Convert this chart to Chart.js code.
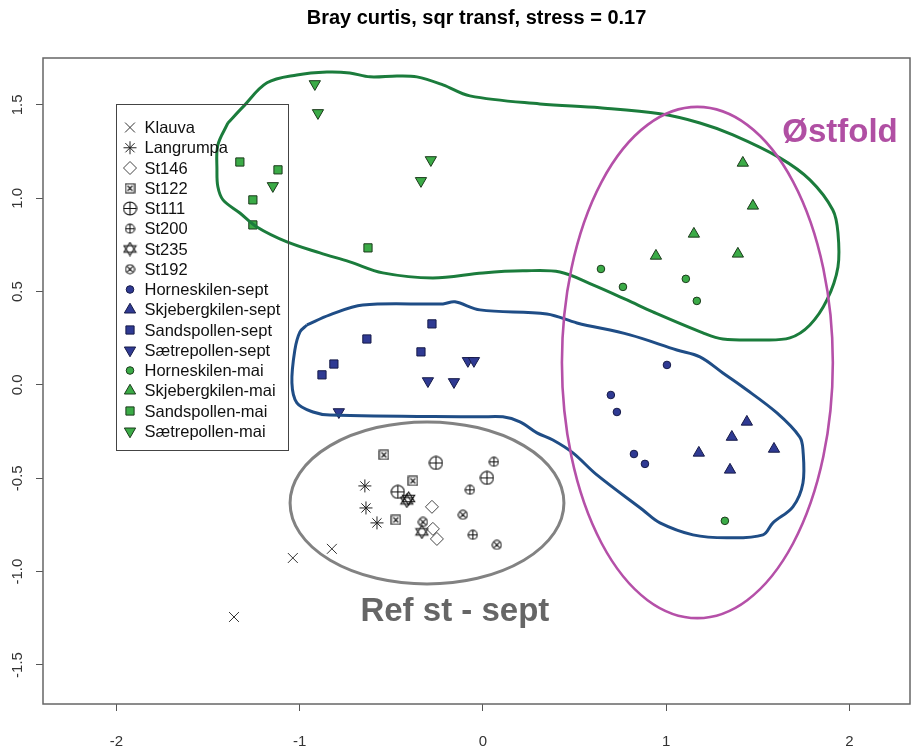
<!DOCTYPE html>
<html>
<head>
<meta charset="utf-8">
<script src="https://cdn.jsdelivr.net/npm/chart.js@4/dist/chart.umd.min.js"></script>
<style>
  html, body { margin: 0; padding: 0; background: #fff; }
  canvas { display: block; }
</style>
</head>
<body>
<canvas id="nmds" width="913" height="747"></canvas>
<script>
// NMDS scores, [x, y] per sample
const klauva = [[-1.037, -0.927], [-0.824, -0.878], [-1.358, -1.243]];
const langrumpa = [[-0.644, -0.541], [-0.638, -0.659], [-0.578, -0.739]];
const st146 = [[-0.278, -0.653], [-0.273, -0.771], [-0.251, -0.825]];
const st122 = [[-0.540, -0.375], [-0.382, -0.514], [-0.475, -0.723]];
const st111 = [[-0.256, -0.418], [0.022, -0.498], [-0.464, -0.573]];
const st200 = [[0.060, -0.412], [-0.071, -0.562], [-0.055, -0.803]];
const st235 = [[-0.415, -0.621], [-0.405, -0.608], [-0.333, -0.787]];
const st192 = [[-0.327, -0.734], [-0.109, -0.696], [0.076, -0.857]];
const horneSept = [[1.004, 0.107], [0.698, -0.054], [0.731, -0.145], [0.824, -0.370], [0.884, -0.423]];
const skjebSept = [[1.440, -0.198], [1.358, -0.279], [1.588, -0.343], [1.178, -0.364], [1.348, -0.455]];
const sandSept = [[-0.278, 0.327], [-0.633, 0.246], [-0.338, 0.177], [-0.813, 0.112], [-0.878, 0.054]];
const saetreSept = [[-0.082, 0.129], [-0.049, 0.129], [-0.300, 0.021], [-0.158, 0.016], [-0.786, -0.145]];
const horneMai = [[0.644, 0.621], [0.764, 0.525], [1.107, 0.568], [1.167, 0.450], [1.320, -0.728]];
const skjebMai = [[1.418, 1.189], [1.473, 0.959], [1.151, 0.809], [0.944, 0.691], [1.391, 0.702]];
const sandMai = [[-1.326, 1.194], [-1.118, 1.152], [-1.255, 0.991], [-1.255, 0.857], [-0.627, 0.734]];
const saetreMai = [[-0.917, 1.612], [-0.900, 1.457], [-0.284, 1.205], [-0.338, 1.093], [-1.146, 1.066]];

const groupNames = ['Klauva', 'Langrumpa', 'St146', 'St122', 'St111', 'St200', 'St235', 'St192',
  'Horneskilen-sept', 'Skjebergkilen-sept', 'Sandspollen-sept', 'Sætrepollen-sept',
  'Horneskilen-mai', 'Skjebergkilen-mai', 'Sandspollen-mai', 'Sætrepollen-mai'];
const groupPoints = [klauva, langrumpa, st146, st122, st111, st200, st235, st192,
  horneSept, skjebSept, sandSept, saetreSept, horneMai, skjebMai, sandMai, saetreMai];

// hand drawn group outlines, in NMDS units
const greenHull = [[-1.391, 1.403], [-1.309, 1.489], [-1.178, 1.618], [-1.015, 1.660], [-0.851, 1.676],
  [-0.726, 1.671], [-0.616, 1.650], [-0.469, 1.655], [-0.360, 1.650], [-0.218, 1.607], [-0.071, 1.548],
  [0.311, 1.505], [0.638, 1.484], [0.966, 1.452], [1.184, 1.403], [1.364, 1.339], [1.620, 1.216],
  [1.784, 1.098], [1.909, 0.937], [1.937, 0.814], [1.937, 0.632], [1.877, 0.455], [1.784, 0.321],
  [1.675, 0.252], [1.511, 0.241], [1.309, 0.246], [1.200, 0.279], [0.927, 0.391], [0.786, 0.455],
  [0.600, 0.536], [0.420, 0.605], [0.218, 0.611], [0.000, 0.600], [-0.273, 0.573], [-0.546, 0.600],
  [-0.726, 0.659], [-0.889, 0.707], [-1.069, 0.766], [-1.233, 0.846], [-1.326, 0.921], [-1.418, 0.991],
  [-1.446, 1.061], [-1.451, 1.152], [-1.446, 1.285], [-1.391, 1.403]];
const blueHull = [[-0.960, 0.321], [-0.835, 0.375], [-0.655, 0.428], [-0.218, 0.434], [-0.153, 0.445],
  [-0.016, 0.402], [0.349, 0.380], [0.513, 0.332], [0.802, 0.268], [1.058, 0.187], [1.184, 0.150],
  [1.309, 0.064], [1.418, -0.011], [1.604, -0.150], [1.729, -0.279], [1.746, -0.348], [1.746, -0.525],
  [1.691, -0.653], [1.582, -0.739], [1.528, -0.803], [1.331, -0.819], [1.146, -0.803], [0.966, -0.739],
  [0.873, -0.670], [0.622, -0.482], [0.491, -0.364], [0.382, -0.295], [0.295, -0.257], [0.202, -0.198],
  [0.109, -0.171], [-0.016, -0.171], [-0.835, -0.161], [-0.927, -0.145], [-1.015, -0.096],
  [-1.042, 0.011], [-1.026, 0.187], [-0.998, 0.284], [-0.960, 0.321]];

const refEllipse = { cx: -0.305, cy: -0.632, rx: 0.747, ry: 0.434 };
const ostfoldEllipse = { cx: 1.170, cy: 0.120, rx: 0.739, ry: 1.369 };

const xTicks = [-2, -1, 0, 1, 2];
const yTicks = [-1.5, -1.0, -0.5, 0.0, 0.5, 1.0, 1.5];

const BLUE = '#2f3a93', BLUE_EDGE = '#161a48';
const GREEN = '#3bab47', GREEN_EDGE = '#1b3a1b';
const NONE = 'rgba(0,0,0,0)';

// R style open symbols that chart.js has no built-in style for
function makeSymbol(kind, size) {
    const c = document.createElement('canvas');
    c.width = c.height = size;
    const g = c.getContext('2d');
    const m = size / 2;
    g.strokeStyle = '#111';
    g.lineWidth = 1.1;
    g.beginPath();
    if (kind === 'boxX') {
        const h = m - 1;
        g.rect(m - h, m - h, 2 * h, 2 * h);
        const k = h - 2;
        g.moveTo(m - k, m - k); g.lineTo(m + k, m + k);
        g.moveTo(m + k, m - k); g.lineTo(m - k, m + k);
    } else if (kind === 'circlePlus') {
        const r = m - 1;
        g.arc(m, m, r, 0, Math.PI * 2);
        g.moveTo(m - r, m); g.lineTo(m + r, m);
        g.moveTo(m, m - r); g.lineTo(m, m + r);
    } else if (kind === 'circleX') {
        const r = m - 1, d = r * Math.SQRT1_2;
        g.arc(m, m, r, 0, Math.PI * 2);
        g.moveTo(m - d, m - d); g.lineTo(m + d, m + d);
        g.moveTo(m + d, m - d); g.lineTo(m - d, m + d);
    } else if (kind === 'david') {
        const w = m - 1.5;
        g.moveTo(m, 1); g.lineTo(m + w, size * 0.72); g.lineTo(m - w, size * 0.72); g.closePath();
        g.moveTo(m, size - 1); g.lineTo(m + w, size * 0.28); g.lineTo(m - w, size * 0.28); g.closePath();
    }
    g.stroke();
    return c;
}

const markerStyles = [
    { pointStyle: 'crossRot', radius: 7, fill: NONE, edge: '#333' },
    { pointStyle: 'star', radius: 6.5, fill: NONE, edge: '#222' },
    { pointStyle: 'rectRot', radius: 6.5, fill: NONE, edge: '#444' },
    { pointStyle: makeSymbol('boxX', 11), radius: 5, fill: NONE, edge: '#222' },
    { pointStyle: makeSymbol('circlePlus', 15), radius: 7, fill: NONE, edge: '#222' },
    { pointStyle: makeSymbol('circlePlus', 11), radius: 5, fill: NONE, edge: '#222' },
    { pointStyle: makeSymbol('david', 15), radius: 7, fill: NONE, edge: '#222' },
    { pointStyle: makeSymbol('circleX', 11), radius: 5, fill: NONE, edge: '#222' },
    { pointStyle: 'circle', radius: 3.8, fill: BLUE, edge: BLUE_EDGE },
    { pointStyle: 'triangle', radius: 6.5, fill: BLUE, edge: BLUE_EDGE },
    { pointStyle: 'rect', radius: 5.8, fill: BLUE, edge: BLUE_EDGE },
    { pointStyle: 'triangle', radius: 6.5, rotation: 180, fill: BLUE, edge: BLUE_EDGE },
    { pointStyle: 'circle', radius: 3.8, fill: GREEN, edge: GREEN_EDGE },
    { pointStyle: 'triangle', radius: 6.5, fill: GREEN, edge: GREEN_EDGE },
    { pointStyle: 'rect', radius: 5.8, fill: GREEN, edge: GREEN_EDGE },
    { pointStyle: 'triangle', radius: 6.5, rotation: 180, fill: GREEN, edge: GREEN_EDGE }
];

const toXY = arr => arr.map(([x, y]) => ({ x, y }));

const pointSets = groupNames.map((name, i) => {
    const s = markerStyles[i];
    return {
        label: name,
        data: toXY(groupPoints[i]),
        pointStyle: s.pointStyle,
        pointRadius: s.radius,
        pointRotation: s.rotation || 0,
        pointBackgroundColor: s.fill,
        pointBorderColor: s.edge,
        pointBorderWidth: 1,
        order: 1
    };
});

const hullSet = (data, color) => ({
    label: '',
    data: toXY(data),
    showLine: true,
    borderColor: color,
    borderWidth: 3,
    pointRadius: 0,
    tension: 0.35,
    fill: false,
    order: 0
});

const FONT = '"Liberation Sans", Arial, sans-serif';

// box, title, ellipses, text labels and legend
const decorations = {
    id: 'decorations',
    afterDatasetsDraw(chart) {
        const { ctx, scales: { x, y } } = chart;
        const ell = (e, color, width) => {
            const cx = x.getPixelForValue(e.cx), cy = y.getPixelForValue(e.cy);
            const rx = Math.abs(x.getPixelForValue(e.cx + e.rx) - cx);
            const ry = Math.abs(y.getPixelForValue(e.cy + e.ry) - cy);
            ctx.save();
            ctx.beginPath();
            ctx.ellipse(cx, cy, rx, ry, 0, 0, Math.PI * 2);
            ctx.strokeStyle = color;
            ctx.lineWidth = width;
            ctx.stroke();
            ctx.restore();
        };
        ell(refEllipse, '#828282', 3);
        ell(ostfoldEllipse, '#b550a8', 2.6);

        ctx.save();
        ctx.textAlign = 'center';
        ctx.textBaseline = 'middle';
        ctx.font = 'bold 33px ' + FONT;
        ctx.fillStyle = '#b04fa3';
        ctx.fillText('Østfold', x.getPixelForValue(1.948), y.getPixelForValue(1.35));
        ctx.fillStyle = '#666666';
        ctx.fillText('Ref st - sept', x.getPixelForValue(-0.153), y.getPixelForValue(-1.216));
        ctx.restore();
    },
    afterDraw(chart) {
        const { ctx, chartArea: a, scales: { x, y } } = chart;
        ctx.save();
        // plot frame
        ctx.strokeStyle = '#666';
        ctx.lineWidth = 1.5;
        ctx.strokeRect(a.left, a.top, a.right - a.left, a.bottom - a.top);

        // title
        ctx.fillStyle = '#000';
        ctx.font = 'bold 20px ' + FONT;
        ctx.textAlign = 'center';
        ctx.textBaseline = 'middle';
        ctx.fillText('Bray curtis, sqr transf, stress = 0.17', (a.left + a.right) / 2, 18);

        // legend (no background), top-left corner at (-2, 1.5)
        const lx = Math.round(x.getPixelForValue(-2)) + 0.5;
        const ly = Math.round(y.getPixelForValue(1.5)) - 0.5;
        const rowH = 20.25;
        ctx.strokeStyle = '#444';
        ctx.lineWidth = 1;
        ctx.strokeRect(lx, ly, 172, 346);
        ctx.font = '16.5px ' + FONT;
        ctx.textAlign = 'left';
        groupNames.forEach((name, i) => {
            const s = markerStyles[i];
            const ry = ly + 23 + i * rowH;
            ctx.save();
            ctx.fillStyle = s.fill;
            ctx.strokeStyle = s.edge;
            ctx.lineWidth = 1;
            Chart.helpers.drawPoint(ctx, {
                pointStyle: s.pointStyle, radius: s.radius,
                rotation: s.rotation || 0, borderWidth: 1
            }, lx + 13.5, ry);
            ctx.restore();
            ctx.fillStyle = '#111';
            ctx.fillText(name, lx + 28, ry + 1);
        });
        ctx.restore();
    }
};

const tickFont = { family: FONT, size: 15 };

new Chart(document.getElementById('nmds'), {
    type: 'scatter',
    data: {
        datasets: [hullSet(greenHull, '#1b7c3c'), hullSet(blueHull, '#1f4d86')].concat(pointSets)
    },
    options: {
        responsive: false,
        animation: false,
        devicePixelRatio: 1,
        events: [],
        layout: { autoPadding: false, padding: { top: 58, right: 3, left: 0, bottom: 0 } },
        plugins: { legend: { display: false }, tooltip: { enabled: false } },
        scales: {
            x: {
                type: 'linear',
                min: -2.40,
                max: 2.33,
                afterBuildTicks: s => { s.ticks = xTicks.map(v => ({ value: v })); },
                afterFit: s => { s.height = 43; s.paddingLeft = 0; s.paddingRight = 0; },
                ticks: { font: tickFont, color: '#333', padding: 22, callback: v => String(v) },
                grid: { drawOnChartArea: false, drawTicks: true, tickLength: 7, color: '#555' },
                border: { display: false }
            },
            y: {
                type: 'linear',
                min: -1.709,
                max: 1.751,
                afterBuildTicks: s => { s.ticks = yTicks.map(v => ({ value: v })); },
                afterFit: s => { s.width = 43; s.paddingTop = 0; s.paddingBottom = 0; },
                ticks: {
                    font: tickFont, color: '#333', padding: 5,
                    minRotation: 90, maxRotation: 90, crossAlign: 'center',
                    callback: v => v.toFixed(1)
                },
                grid: { drawOnChartArea: false, drawTicks: true, tickLength: 7, color: '#555' },
                border: { display: false }
            }
        }
    },
    plugins: [decorations]
});
</script>
</body>
</html>
